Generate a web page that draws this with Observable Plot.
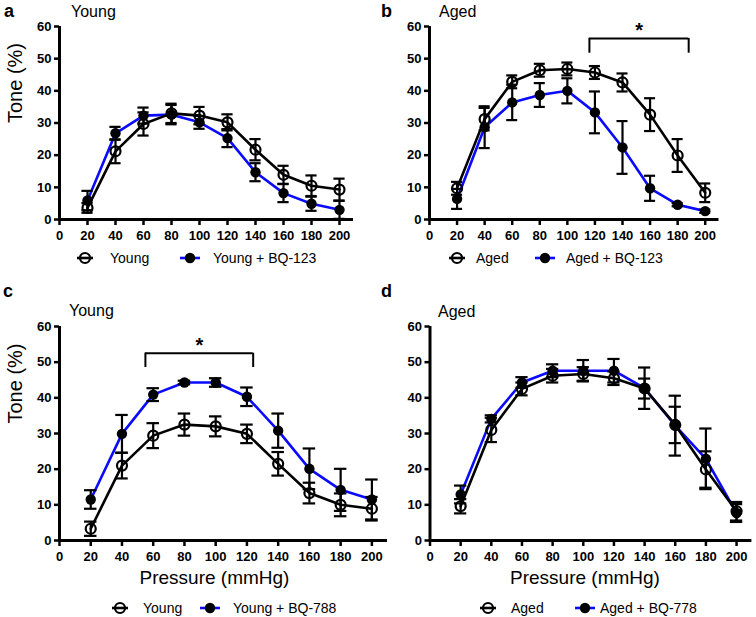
<!DOCTYPE html>
<html>
<head>
<meta charset="utf-8">
<script src="https://cdn.jsdelivr.net/npm/d3@7"></script>
<script src="https://cdn.jsdelivr.net/npm/@observablehq/plot@0.6"></script>
<style>
  html, body { margin: 0; padding: 0; background: #fff; }
  #root { position: relative; width: 756px; height: 617px; overflow: hidden; font-family: "Liberation Sans", Arial, sans-serif; color: #000; }
  .abs { position: absolute; }
  .lbl { position: absolute; line-height: 1; transform: translateY(-50%); white-space: nowrap; }
  .letter { font-weight: bold; font-size: 18px; }
  .title { font-size: 16px; }
  .leg { font-size: 14px; }
  svg.plotsvg { overflow: visible; }
</style>
</head>
<body>
<div id="root"></div>
<script>
// ---------- data ----------
const pressure = [20, 40, 60, 80, 100, 120, 140, 160, 180, 200];
const xTicks = [0, 20, 40, 60, 80, 100, 120, 140, 160, 180, 200];
const yTicks = [0, 10, 20, 30, 40, 50, 60];

// panel a: Young vs Young + BQ-123
const aYoung    = [3.6, 21.2, 29.7, 33.0, 32.3, 30.2, 21.7, 13.9, 10.5, 9.3];
const aYoungErr = [1.5, 3.7, 3.6, 3.0, 2.7, 2.5, 3.3, 2.8, 3.2, 3.4];
const aBQ123    = [5.9, 26.8, 32.3, 32.6, 30.2, 25.3, 14.7, 8.2, 4.9, 3.0];
const aBQ123Err = [3.0, 2.0, 2.5, 3.0, 2.0, 2.8, 2.8, 2.8, 2.2, 2.8];

// panel b: Aged vs Aged + BQ-123
const bAged     = [9.7, 31.2, 42.8, 46.4, 46.8, 45.7, 42.6, 32.6, 19.9, 8.3];
const bAgedErr  = [2.0, 3.5, 2.0, 2.0, 2.0, 2.0, 2.8, 5.1, 5.1, 2.9];
const bBQ123    = [6.4, 28.7, 36.4, 38.7, 40.0, 33.3, 22.4, 9.7, 4.6, 2.6];
const bBQ123Err = [3.1, 6.5, 5.5, 3.7, 3.9, 6.5, 8.2, 3.9, 0.5, 0.5];

// panel c: Young vs Young + BQ-788
const cYoung    = [3.3, 21.0, 29.4, 32.5, 32.0, 29.9, 21.5, 13.3, 10.0, 8.9];
const cYoungErr = [2.0, 3.6, 3.5, 3.1, 2.8, 2.6, 3.3, 2.9, 3.2, 3.3];
const cBQ788    = [11.5, 29.9, 40.9, 44.3, 44.3, 40.3, 30.8, 20.1, 14.2, 11.5];
const cBQ788Err = [2.6, 5.3, 1.8, 0.5, 1.2, 2.6, 4.8, 5.7, 5.9, 5.6];

// panel d: Aged vs Aged + BQ-778
const dAged     = [9.6, 31.0, 42.5, 46.2, 46.7, 45.5, 42.6, 32.4, 19.9, 8.2];
const dAgedErr  = [2.0, 3.4, 1.8, 1.9, 1.9, 1.9, 2.8, 5.1, 5.1, 2.6];
const dBQ778    = [12.9, 34.1, 44.3, 47.6, 47.6, 47.6, 42.7, 32.2, 22.9, 7.7];
const dBQ778Err = [2.5, 1.0, 1.5, 1.8, 3.0, 3.3, 5.8, 8.4, 8.5, 2.5];

// significance brackets (data units)
const bracketB = {x1: 116, x2: 188, top: 56.3, foot: 51.7, label: "*"};
const bracketC = {x1: 55, x2: 124, top: 52.5, foot: 48.5, label: "*"};

// ---------- helpers ----------
const BLUE = "#0a0aff";
const series = (ys, es) => pressure.map((x, i) => ({x, y: ys[i], e: es[i]}));

function panel(o) {
  const open = series(o.openY, o.openE);
  const fill = series(o.fillY, o.fillE);
  const both = open.concat(fill);
  const cap = 4;
  const marks = [
    Plot.line(fill, {x: "x", y: "y", stroke: BLUE, strokeWidth: 2.6}),
    Plot.line(open, {x: "x", y: "y", stroke: "#000", strokeWidth: 2.6}),
    Plot.ruleX(both, {x: "x", y1: d => d.y - d.e, y2: d => d.y + d.e, stroke: "#000", strokeWidth: 2.2}),
    Plot.ruleY(both, {y: d => d.y + d.e, x1: d => d.x - cap, x2: d => d.x + cap, stroke: "#000", strokeWidth: 2.2}),
    Plot.ruleY(both, {y: d => d.y - d.e, x1: d => d.x - cap, x2: d => d.x + cap, stroke: "#000", strokeWidth: 2.2}),
    Plot.dot(open, {x: "x", y: "y", r: 5, fill: "none", stroke: "#000", strokeWidth: 2.2}),
    Plot.dot(fill, {x: "x", y: "y", r: 5.2, fill: "#000", stroke: "none"}),
    Plot.ruleX([0], {y1: 0, y2: 60, stroke: "#000", strokeWidth: 3}),
    Plot.ruleY([0], {x1: 0, x2: 210, stroke: "#000", strokeWidth: 3}),
    Plot.axisX({ticks: xTicks, tickSize: 6, tickPadding: 5, strokeWidth: 2.5, fontSize: 13, fontWeight: "bold", label: null}),
    Plot.axisY({ticks: yTicks, tickSize: 5, tickPadding: 3, strokeWidth: 2.5, fontSize: 13, fontWeight: "bold", label: null})
  ];
  if (o.bracket) {
    const b = o.bracket;
    marks.push(
      Plot.ruleY([b], {y: "top", x1: "x1", x2: "x2", stroke: "#000", strokeWidth: 2}),
      Plot.ruleX([b], {x: "x1", y1: "foot", y2: "top", stroke: "#000", strokeWidth: 2}),
      Plot.ruleX([b], {x: "x2", y1: "foot", y2: "top", stroke: "#000", strokeWidth: 2}),
      Plot.text([b], {x: d => (d.x1 + d.x2) / 2, y: "top", text: "label", dy: -8, fontSize: 20, fontWeight: "bold"})
    );
  }
  if (o.ylabel) {
    marks.push(Plot.text([o.ylabel], {frameAnchor: "left", rotate: -90, dx: -44, dy: o.ylabelDy || 0, fontSize: 20}));
  }
  if (o.xlabel) {
    marks.push(Plot.text([o.xlabel], {frameAnchor: "bottom", dy: 43, dx: o.xlabelDx || 0, fontSize: 19}));
  }
  const svg = Plot.plot({
    width: o.width, height: o.height,
    marginLeft: o.ml, marginRight: o.mr, marginTop: o.mt, marginBottom: o.mb,
    x: {domain: [0, 210]},
    y: {domain: [0, 60]},
    style: {fontFamily: "'Liberation Sans', Arial, sans-serif", background: "transparent", overflow: "visible", color: "#000"},
    marks
  });
  svg.classList.add("plotsvg");
  svg.style.position = "absolute";
  svg.style.left = o.left + "px";
  svg.style.top = o.top + "px";
  svg.style.maxWidth = "none";
  return svg;
}

const root = document.getElementById("root");

root.append(panel({left: 0, top: 0, width: 378, height: 245, ml: 59, mr: 25, mt: 26, mb: 26,
  openY: aYoung, openE: aYoungErr, fillY: aBQ123, fillE: aBQ123Err, ylabel: "Tone (%)"}));
root.append(panel({left: 378, top: 0, width: 378, height: 245, ml: 51, mr: 37.5, mt: 26, mb: 26,
  openY: bAged, openE: bAgedErr, fillY: bBQ123, fillE: bBQ123Err, bracket: bracketB}));
root.append(panel({left: 0, top: 290, width: 400, height: 307, ml: 59, mr: 13, mt: 36, mb: 57,
  openY: cYoung, openE: cYoungErr, fillY: cBQ788, fillE: cBQ788Err, bracket: bracketC,
  ylabel: "Tone (%)", ylabelDy: -10, xlabel: "Pressure (mmHg)", xlabelDx: -9}));
root.append(panel({left: 378, top: 290, width: 378, height: 307, ml: 51.5, mr: 4.6, mt: 36, mb: 57,
  openY: dAged, openE: dAgedErr, fillY: dBQ778, fillE: dBQ778Err, xlabel: "Pressure (mmHg)", xlabelDx: -6}));

// panel letters & titles
function label(text, x, y, cls) {
  const d = document.createElement("div");
  d.className = "lbl " + cls;
  d.style.left = x + "px";
  d.style.top = y + "px";
  d.textContent = text;
  root.append(d);
}
label("a", 4, 11, "letter");  label("Young", 71, 12, "title");
label("b", 381, 11, "letter"); label("Aged", 439, 12, "title");
label("c", 3, 291, "letter");  label("Young", 69, 311, "title");
label("d", 381, 291, "letter"); label("Aged", 438, 312, "title");

// legends
function legendItem(cx, cy, filled, text, tx) {
  const ns = "http://www.w3.org/2000/svg";
  const s = document.createElementNS(ns, "svg");
  s.setAttribute("width", 26); s.setAttribute("height", 14);
  s.style.position = "absolute";
  s.style.left = (cx - 13) + "px"; s.style.top = (cy - 7) + "px";
  const ln = document.createElementNS(ns, "line");
  ln.setAttribute("x1", filled ? 3 : 5); ln.setAttribute("x2", filled ? 23 : 21);
  ln.setAttribute("y1", 7); ln.setAttribute("y2", 7);
  ln.setAttribute("stroke", filled ? BLUE : "#000"); ln.setAttribute("stroke-width", 2.6);
  const c = document.createElementNS(ns, "circle");
  c.setAttribute("cx", 13); c.setAttribute("cy", 7); c.setAttribute("r", filled ? 5.2 : 5);
  c.setAttribute("fill", filled ? "#000" : "none");
  c.setAttribute("stroke", filled ? "none" : "#000"); c.setAttribute("stroke-width", 2.2);
  s.append(ln, c);
  root.append(s);
  label(text, tx, cy, "leg");
}
legendItem(85, 258, false, "Young", 110);
legendItem(190, 258, true, "Young + BQ-123", 213);
legendItem(457, 258, false, "Aged", 476);
legendItem(545, 258, true, "Aged + BQ-123", 566);
legendItem(120, 608, false, "Young", 143);
legendItem(210, 608, true, "Young + BQ-788", 233);
legendItem(488, 608, false, "Aged", 511);
legendItem(585, 608, true, "Aged + BQ-778", 600);
</script>
</body>
</html>
